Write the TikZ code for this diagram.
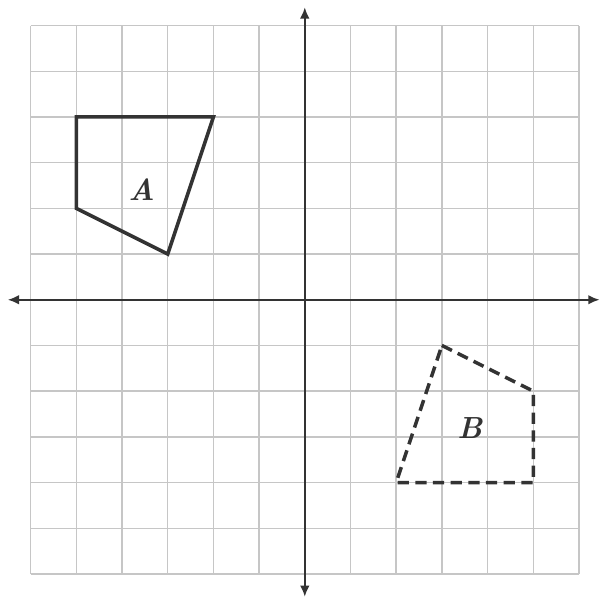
\documentclass[tikz,border=0pt]{standalone}
\usetikzlibrary{arrows.meta}
\begin{document}
\begin{tikzpicture}[
  gridline/.style={gray!45, line width=0.9pt},
  axis/.style={black!80, line width=1.2pt, -{Latex[length=7pt,width=6pt]}},
  shapeA/.style={black!80, line width=2.2pt, line join=miter},
  shapeB/.style={black!80, line width=2.2pt, dashed, dash pattern=on 7pt off 4pt},
  lbl/.style={font=\fontsize{19}{22}\selectfont\bfseries\itshape, text=black!80}
]
\useasboundingbox (-6.67,-6.52) rectangle (6.46,6.56);
\fill[white] (-6.67,-6.52) rectangle (6.46,6.56);
\draw[gridline] (-6,-6) grid (6,6);
\coordinate (xl) at (-6.5,0);
\coordinate (xr) at (6.45,0);
\coordinate (yb) at (0,-6.5);
\coordinate (yt) at (0,6.4);
\coordinate (o) at (0,0);
\draw[axis] (o) -- (xl);
\draw[axis] (o) -- (xr);
\draw[axis] (o) -- (yb);
\draw[axis] (o) -- (yt);
\coordinate (a1) at (-5,4);
\coordinate (a2) at (-2,4);
\coordinate (a3) at (-3,1);
\coordinate (a4) at (-5,2);
\draw[shapeA] (a1) -- (a2) -- (a3) -- (a4) -- cycle;
\coordinate (b1) at (3,-1);
\coordinate (b2) at (5,-2);
\coordinate (b3) at (5,-4);
\coordinate (b4) at (2,-4);
\draw[shapeB] (b1) -- (b2) -- (b3) -- (b4) -- cycle;
\node[lbl] (la) at (-3.57,2.41) {A};
\node[lbl] (lb) at (3.61,-2.8) {B};
\end{tikzpicture}
\end{document}
